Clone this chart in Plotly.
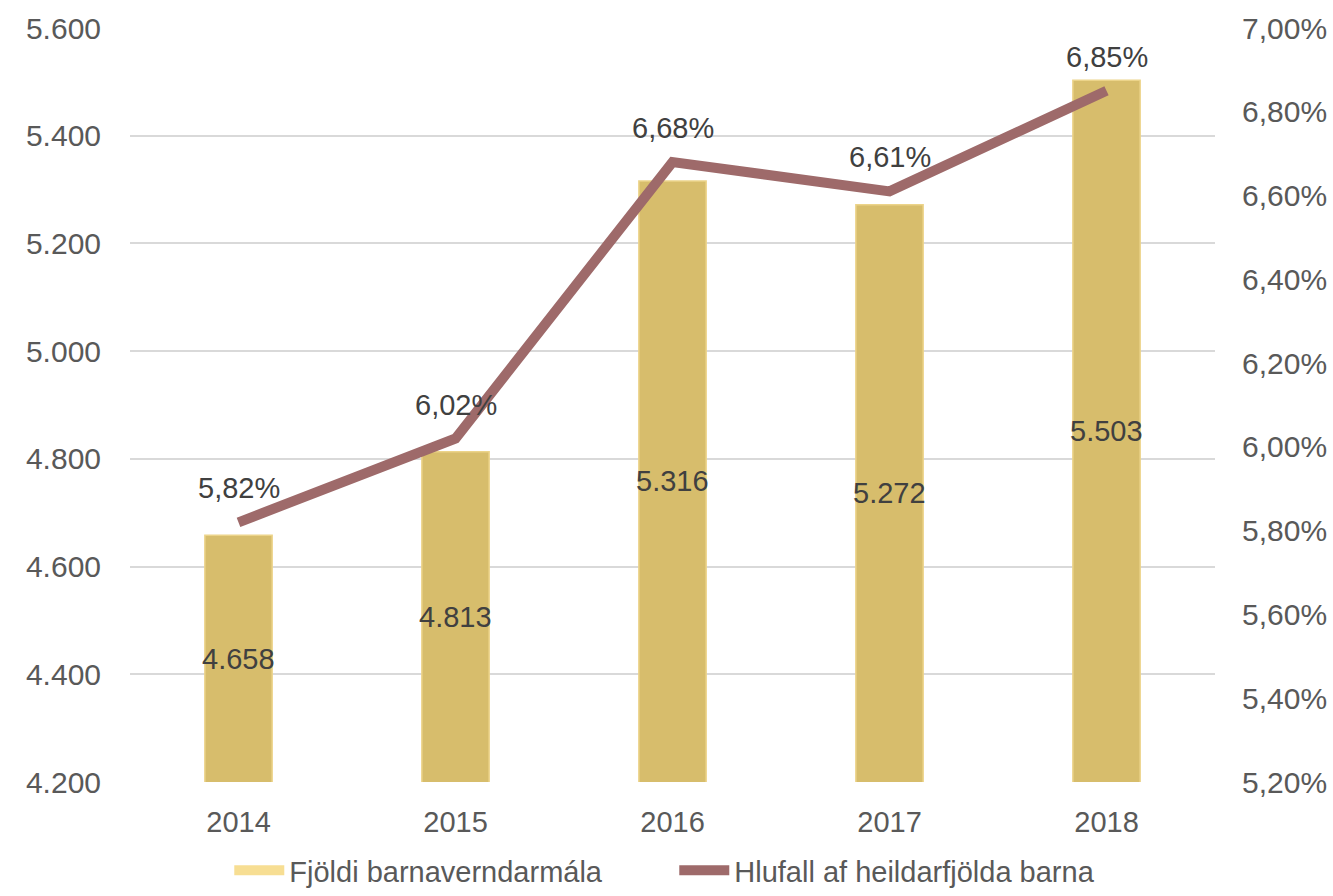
import plotly.graph_objects as go

years = ["2014", "2015", "2016", "2017", "2018"]
cases = [4658, 4813, 5316, 5272, 5503]
share = [5.82, 6.02, 6.68, 6.61, 6.85]
left_ticks = [4200, 4400, 4600, 4800, 5000, 5200, 5400, 5600]
right_ticks = [5.2, 5.4, 5.6, 5.8, 6.0, 6.2, 6.4, 6.6, 6.8, 7.0]

FONT = "Liberation Sans"
fmt_int = lambda v: f"{v:,}".replace(",", ".")
fmt_pct = lambda v: f"{v:.2f}".replace(".", ",") + "%"

fig = go.Figure()
fig.add_trace(go.Bar(
    x=years, y=cases, name="Fjöldi barnaverndarmála", showlegend=False,
    marker=dict(color="#D7BD6C", line=dict(color="#ECD48A", width=1.5)),
    width=0.31,
))
fig.add_trace(go.Scatter(
    x=years, y=share, name="Hlufall af heildarfjölda barna", yaxis="y2", showlegend=False,
    mode="lines", line=dict(color="#9E6A6A", width=10),
))
# legend proxies
fig.add_trace(go.Scatter(x=[years[0]], y=[None], mode="lines", name="Fjöldi barnaverndarmála",
                         line=dict(color="#F7DE93", width=18)))
fig.add_trace(go.Scatter(x=[years[0]], y=[None], mode="lines", name="Hlufall af heildarfjölda barna",
                         line=dict(color="#9E6A6A", width=10)))

ann = []
for i, v in enumerate(cases):
    ann.append(dict(x=i, y=(v + left_ticks[0]) / 2, xref="x", yref="y", text=fmt_int(v),
                    showarrow=False, font=dict(family=FONT, size=29, color="#404040")))
for i, v in enumerate(share):
    ann.append(dict(x=i, y=v, xref="x", yref="y2", text=fmt_pct(v), yshift=34,
                    showarrow=False, font=dict(family=FONT, size=29, color="#404040")))

fig.update_layout(
    width=1333, height=896,
    margin=dict(l=130, r=118, t=28, b=114, autoexpand=False),
    plot_bgcolor="white", paper_bgcolor="white",
    font=dict(family=FONT, size=30, color="#595959"),
    xaxis=dict(type="category", categoryarray=years, range=[-0.5, 4.5], showgrid=False,
               showline=False, ticks="", tickfont=dict(size=29), ticklabelstandoff=20),
    yaxis=dict(range=[4200, 5600], tickvals=left_ticks, ticktext=[fmt_int(t) for t in left_ticks],
               showgrid=True, gridcolor="#D9D9D9", gridwidth=2, zeroline=False,
               ticklabelstandoff=28, showline=False),
    yaxis2=dict(range=[5.2, 7.0], tickvals=right_ticks, ticktext=[fmt_pct(t) for t in right_ticks],
                overlaying="y", side="right", showgrid=False, zeroline=False,
                ticklabelstandoff=26, showline=False),
    legend=dict(orientation="h", x=0.172, xanchor="left", xref="container",
                y=0.0, yanchor="bottom", yref="container",
                font=dict(family=FONT, size=29, color="#595959"), entrywidth=380,
                entrywidthmode="pixels", itemwidth=50, tracegroupgap=0),
    annotations=ann,
    showlegend=True,
)

fig.write_html("out.html")
